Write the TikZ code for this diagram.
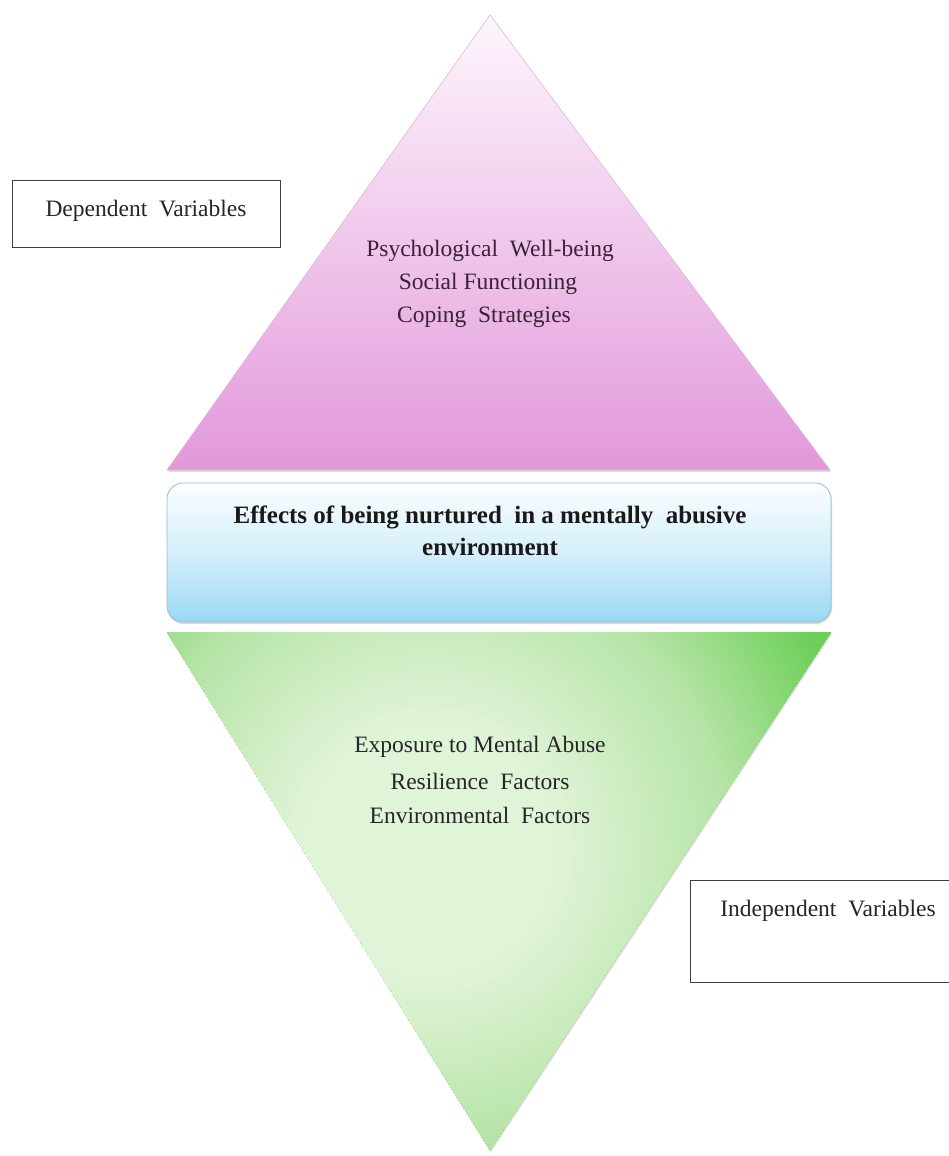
\documentclass[tikz,border=0pt]{standalone}
\usepackage{fontspec}
\setmainfont{Liberation Serif}
\usetikzlibrary{shadows}
\definecolor{pinkbot}{HTML}{E298DA}
\definecolor{pinktop}{HTML}{FDF6FC}
\definecolor{bluebot}{HTML}{9BD8F4}
\definecolor{bluetop}{HTML}{FBFEFF}
\definecolor{greendark}{HTML}{6CCF58}
\definecolor{greenmid}{HTML}{B6E4A6}
\definecolor{greenlight}{HTML}{E0F4D8}
\definecolor{txtpurple}{HTML}{3A2238}
\tikzset{
  labelbox/.style={draw=black!75, line width=0.8pt, fill=white},
  vartext/.style={font=\fontsize{23.5}{26}\selectfont, text=black!85},
  innertext/.style={font=\fontsize{23.5}{26}\selectfont},
}
\begin{document}
\begin{tikzpicture}[x=1pt,y=-1pt]
\useasboundingbox (0,0) rectangle (948,1156);
% top triangle
\shade[top color=pinktop, bottom color=pinkbot, draw=pinkbot!60!gray!60, line width=0.6pt,
  drop shadow={shadow xshift=1pt, shadow yshift=-2pt, opacity=0.25}]
  (490,15) -- (830,470) -- (167,470) -- cycle;
% middle rounded box
\node[draw=bluebot!70!gray, line width=0.8pt, rounded corners=16pt, minimum width=664pt, minimum height=139pt,
  top color=bluetop, bottom color=bluebot, middle color=bluetop!60!bluebot,
  drop shadow={shadow xshift=1pt, shadow yshift=-2pt, opacity=0.3}]
  (mid) at (499,552.5) {};
\node[font=\bfseries\fontsize{25}{32}\selectfont, align=center, text=black!90] (midtext) at (490,531)
  {Effects of being nurtured \ in a mentally \ abusive\\ environment};
% bottom triangle
\fill[white, drop shadow={shadow xshift=1pt, shadow yshift=-2pt, opacity=0.25}]
  (167,632) -- (831,632) -- (490,1150) -- cycle;
\begin{scope}
  \clip (167,632) -- (831,632) -- (490,1150) -- cycle;
  \foreach \r in {570,564,...,0}{
    \pgfmathparse{\r>=440 ? 100 : (\r>=300 ? (\r-300)/140*100 : 0)}\let\gpd\pgfmathresult
    \pgfmathparse{\r>=300 ? 100 : (\r>=130 ? (\r-130)/170*100 : 0)}\let\gpm\pgfmathresult
    \colorlet{tmpg}{greenmid!\gpm!greenlight}
    \fill[greendark!\gpd!tmpg] (430,850) circle (\r pt);
  }
\end{scope}
% top texts
\node[innertext, text=txtpurple] (t1) at (490,251) {Psychological \ Well-being};
\node[innertext, text=txtpurple] (t2) at (488,284) {Social Functioning};
\node[innertext, text=txtpurple] (t3) at (484,317) {Coping \ Strategies};
% bottom texts
\node[innertext, text=black!85] (b1) at (480,747) {Exposure to Mental Abuse};
\node[innertext, text=black!85] (b2) at (480,781) {Resilience \ Factors};
\node[innertext, text=black!85] (b3) at (480,815) {Environmental \ Factors};
% label boxes
\draw[labelbox] (12,180) rectangle (280,247);
\node[vartext] (dep) at (146,211) {Dependent \ Variables};
\draw[labelbox] (690,880) rectangle (960,982);
\node[vartext] (indep) at (828,911) {Independent \ Variables};
\end{tikzpicture}
\end{document}
